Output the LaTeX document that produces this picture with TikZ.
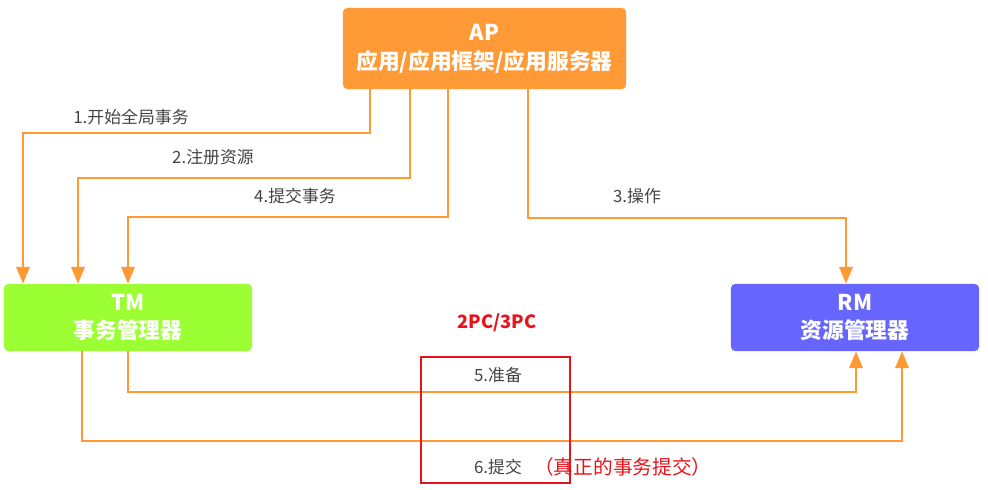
\documentclass[tikz,border=0pt]{standalone}
\usepackage{fontspec}
\setmainfont{Noto Sans CJK SC}
\usetikzlibrary{arrows.meta}
\definecolor{aporange}{HTML}{FF9A36}
\definecolor{tmgreen}{HTML}{9CFF33}
\definecolor{rmblue}{HTML}{6666FF}
\definecolor{lineorange}{HTML}{FF9933}
\definecolor{textgray}{HTML}{444444}
\definecolor{markred}{HTML}{E8141C}
\tikzset{
  box/.style={rounded corners=3pt, text=white, inner sep=0pt, align=center,
    minimum width=6.2cm, minimum height=1.675cm,
    font=\bfseries\fontsize{15.5}{20.5}\selectfont},
  flow/.style={draw=lineorange, line width=1.8pt, -{Triangle[width=9.5pt,length=12pt]}},
  steplabel/.style={text=textgray, font=\fontsize{12}{14}\selectfont}
}
\begin{document}
\begin{tikzpicture}[x=0.025cm,y=-0.025cm]

            \useasboundingbox (0,0) rectangle (988,489);
            \node[box, fill=aporange, minimum width=7.075cm, minimum height=2.025cm] (ap) at (484.5,48.5) {AP\\应用/应用框架/应用服务器};
            \node[box, fill=tmgreen] (tm) at (128,317.5) {TM\\事务管理器};
            \node[box, fill=rmblue] (rm) at (855,317.5) {RM\\资源管理器};

            \draw[flow] (370,0 |- ap.south) |- (23,133) -- (23,0 |- tm.north);
            \draw[flow] (410,0 |- ap.south) |- (78,178) -- (78,0 |- tm.north);
            \draw[flow] (448,0 |- ap.south) |- (128,217) -- (128,0 |- tm.north);
            \draw[flow] (528,0 |- ap.south) |- (846,218) -- (846,0 |- rm.north);
            \draw[flow] (128,0 |- tm.south) |- (856,392) -- (856,0 |- rm.south);
            \draw[flow] (82,0 |- tm.south) |- (902,441) -- (902,0 |- rm.south);

            \node[steplabel] (s1) at (131,117) {1.开始全局事务};
            \node[steplabel] (s2) at (213,157) {2.注册资源};
            \node[steplabel] (s4) at (295,196) {4.提交事务};
            \node[steplabel] (s3) at (637,196) {3.操作};

            \node[draw=markred, line width=1.6pt, minimum width=3.725cm, minimum height=3.15cm, inner sep=0pt] (phase) at (495.5,420) {};
            \node[text=markred, font=\bfseries\fontsize{13}{15}\selectfont] (pc) at (497,323) {2PC/3PC};
            \node[steplabel] (s5) at (498,375) {5.准备};
            \node[steplabel] (s6) at (498,467) {6.提交};
            \node[text=markred, font=\fontsize{14}{16}\selectfont, anchor=west, inner sep=0pt] (real) at (534,467) {（真正的事务提交）};
        \end{tikzpicture}
\end{document}
